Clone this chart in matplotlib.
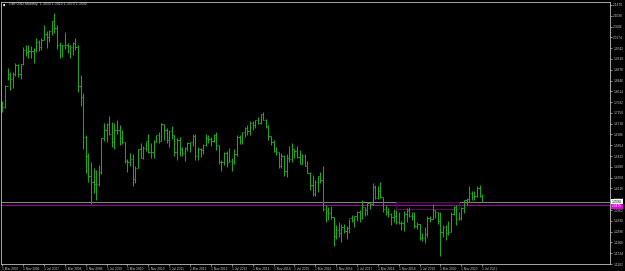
import numpy as np
import matplotlib
matplotlib.use("Agg")
import matplotlib.pyplot as plt

plt.rcParams["font.family"] = ["Liberation Sans", "DejaVu Sans"]

# GBPUSD monthly bars, Mar 2006 .. Jul 2021 (open, high, low, close)
opens = [
    1.7470, 1.7380, 1.8240, 1.8700, 1.8490, 1.8690, 1.9060, 1.8720, 1.9100, 1.9660,
    1.9580, 1.9610, 1.9620, 1.9680, 2.0000, 1.9790, 2.0070, 2.0320, 2.0170, 2.0420, 2.0810, 2.0560,
    1.9850, 1.9870, 1.9850, 1.9860, 1.9820, 1.9800, 1.9950, 1.9790, 1.8240, 1.7800, 1.6180, 1.5420,
    1.4620, 1.4380, 1.4320, 1.4320, 1.4780, 1.6130, 1.6460, 1.6700, 1.6300, 1.5980, 1.6450, 1.6450,
    1.6150, 1.5990, 1.5240, 1.5180, 1.5290, 1.4500, 1.4950, 1.5690, 1.5360, 1.5730, 1.6030, 1.5580,
    1.5600, 1.6000, 1.6260, 1.6040, 1.6700, 1.6450, 1.6050, 1.6430, 1.6250, 1.5580, 1.6080, 1.5690,
    1.5530, 1.5740, 1.5940, 1.5990, 1.6240, 1.5430, 1.5690, 1.5680, 1.5860, 1.6150, 1.6120, 1.6020,
    1.6250, 1.5860, 1.5180, 1.5190, 1.5540, 1.5190, 1.5210, 1.5210, 1.5490, 1.6190, 1.6030, 1.6370,
    1.6560, 1.6430, 1.6750, 1.6670, 1.6870, 1.6750, 1.7100, 1.6880, 1.6590, 1.6210, 1.6000, 1.5640,
    1.5580, 1.5020, 1.5440, 1.4820, 1.5350, 1.5290, 1.5710, 1.5610, 1.5370, 1.5120, 1.5440, 1.5040,
    1.4740, 1.4250, 1.3920, 1.4370, 1.4610, 1.4480, 1.3310, 1.3220, 1.3130, 1.2970, 1.2230, 1.2470,
    1.2340, 1.2570, 1.2410, 1.2550, 1.2940, 1.2880, 1.3020, 1.3200, 1.2930, 1.3390, 1.3280, 1.3530,
    1.3500, 1.4190, 1.3760, 1.4020, 1.3770, 1.3290, 1.3200, 1.3120, 1.2990, 1.3030, 1.2770, 1.2750,
    1.2750, 1.3100, 1.3260, 1.3030, 1.3040, 1.2630, 1.2700, 1.2160, 1.2160, 1.2290, 1.2940, 1.2920,
    1.3250, 1.3200, 1.2820, 1.2400, 1.2590, 1.2350, 1.2400, 1.3090, 1.3370, 1.2920, 1.2950, 1.3330,
    1.3670, 1.3710, 1.3930, 1.3780, 1.3820, 1.4150, 1.3830,
]
highs = [
    1.7630, 1.8250, 1.8930, 1.8770, 1.8790, 1.9150, 1.9120, 1.9110, 1.9790, 1.9850,
    1.9850, 1.9810, 1.9730, 2.0130, 2.0050, 2.0130, 2.0660, 2.0420, 2.0460, 2.0840, 2.1160, 2.0660,
    1.9990, 1.9880, 2.0400, 1.9950, 1.9850, 1.9990, 2.0160, 1.9850, 1.8670, 1.7950, 1.6270, 1.5530,
    1.5200, 1.4940, 1.4860, 1.5080, 1.6160, 1.6740, 1.6740, 1.7040, 1.6780, 1.6740, 1.6880, 1.6660,
    1.6460, 1.5990, 1.5290, 1.5530, 1.5490, 1.5030, 1.5700, 1.5960, 1.5840, 1.6000, 1.6300, 1.5950,
    1.6060, 1.6270, 1.6400, 1.6750, 1.6720, 1.6550, 1.6480, 1.6620, 1.6280, 1.6130, 1.6170, 1.5780,
    1.5790, 1.5990, 1.6000, 1.6300, 1.6310, 1.5780, 1.5750, 1.5920, 1.6310, 1.6250, 1.6180, 1.6310,
    1.6380, 1.5870, 1.5270, 1.5600, 1.5610, 1.5750, 1.5350, 1.5720, 1.6260, 1.6260, 1.6380, 1.6600,
    1.6670, 1.6820, 1.6820, 1.6850, 1.7000, 1.7100, 1.7190, 1.6900, 1.6650, 1.6230, 1.6080, 1.5790,
    1.5590, 1.5550, 1.5450, 1.5500, 1.5820, 1.5930, 1.5710, 1.5820, 1.5660, 1.5510, 1.5510, 1.5240,
    1.4770, 1.4670, 1.4460, 1.4630, 1.4770, 1.5020, 1.3480, 1.3370, 1.3440, 1.2990, 1.2670, 1.2770,
    1.2710, 1.2710, 1.2610, 1.2910, 1.3050, 1.3020, 1.3210, 1.3270, 1.3660, 1.3390, 1.3550, 1.3550,
    1.4340, 1.4270, 1.4240, 1.4380, 1.3770, 1.3470, 1.3360, 1.3140, 1.3300, 1.3260, 1.3180, 1.2840,
    1.3220, 1.3350, 1.3380, 1.3200, 1.3180, 1.2780, 1.2720, 1.2330, 1.2580, 1.3010, 1.3010, 1.3520,
    1.3280, 1.3200, 1.3200, 1.2650, 1.2650, 1.2810, 1.3170, 1.3430, 1.3480, 1.3180, 1.3400, 1.3680,
    1.3760, 1.4240, 1.4010, 1.4010, 1.4220, 1.4250, 1.3910,
]
lows = [
    1.7202, 1.7350, 1.8470, 1.8050, 1.8150, 1.8610, 1.8580, 1.8520, 1.9060, 1.9410,
    1.9330, 1.9330, 1.9160, 1.9580, 1.9630, 1.9650, 2.0060, 1.9730, 1.9980, 2.0250, 2.0350, 1.9690,
    1.9340, 1.9400, 1.9710, 1.9550, 1.9360, 1.9450, 1.9670, 1.8000, 1.7440, 1.5700, 1.4760, 1.4390,
    1.3500, 1.3960, 1.3660, 1.4240, 1.4700, 1.6020, 1.6000, 1.6260, 1.5780, 1.5710, 1.6300, 1.5880,
    1.5900, 1.5150, 1.4780, 1.5020, 1.4230, 1.4340, 1.4960, 1.5340, 1.5300, 1.5640, 1.5540, 1.5350,
    1.5330, 1.5980, 1.5930, 1.6030, 1.6080, 1.5930, 1.5780, 1.6090, 1.5440, 1.5270, 1.5420, 1.5420,
    1.5230, 1.5640, 1.5600, 1.5810, 1.5270, 1.5270, 1.5370, 1.5500, 1.5840, 1.5930, 1.5830, 1.5980,
    1.5680, 1.5110, 1.4830, 1.5070, 1.4990, 1.5180, 1.4810, 1.5100, 1.5430, 1.5890, 1.5900, 1.6200,
    1.6250, 1.6250, 1.6450, 1.6550, 1.6690, 1.6690, 1.6860, 1.6530, 1.6050, 1.5880, 1.5590, 1.5480,
    1.4950, 1.4950, 1.4630, 1.4570, 1.5170, 1.5170, 1.5330, 1.5330, 1.5110, 1.5110, 1.5030, 1.4730,
    1.4080, 1.3840, 1.3830, 1.4000, 1.4330, 1.3230, 1.2800, 1.2860, 1.2920, 1.1840, 1.2090, 1.2200,
    1.1990, 1.2350, 1.2110, 1.2360, 1.2770, 1.2590, 1.2810, 1.2770, 1.2910, 1.3030, 1.3060, 1.3300,
    1.3470, 1.3710, 1.3710, 1.3740, 1.3200, 1.3050, 1.3000, 1.2660, 1.2790, 1.2700, 1.2720, 1.2480,
    1.2440, 1.2770, 1.2980, 1.2860, 1.2560, 1.2500, 1.2080, 1.2010, 1.1960, 1.2200, 1.2770, 1.2900,
    1.2960, 1.2720, 1.1410, 1.2170, 1.2080, 1.2250, 1.2400, 1.3050, 1.2680, 1.2850, 1.2850, 1.3140,
    1.3450, 1.3570, 1.3670, 1.3670, 1.3800, 1.3790, 1.3570,
]
closes = opens[1:] + [1.3590]

x_labels = [
    "1 Mar 2006", "1 Nov 2006", "1 Jul 2007", "1 Mar 2008", "1 Nov 2008", "1 Jul 2009",
    "1 Mar 2010", "1 Nov 2010", "1 Jul 2011", "1 Mar 2012", "1 Nov 2012", "1 Jul 2013",
    "1 Mar 2014", "1 Nov 2014", "1 Jul 2015", "1 Mar 2016", "1 Nov 2016", "1 Jul 2017",
    "1 Mar 2018", "1 Nov 2018", "1 Jul 2019", "1 Mar 2020", "1 Nov 2020", "1 Jul 2021",
]
y_ticks = [round(2.1470 - 0.0432 * i, 4) for i in range(25)]

bid_price = closes[-1]
level_price = 1.3475
zone_top, zone_bottom = 1.3587, 1.3319
zone_start, zone_end = 151, 175  # month indices

fig = plt.figure(figsize=(6.25, 2.71), dpi=100, facecolor="black")
ax = fig.add_axes([1 / 625, 7 / 271, 609 / 625, 262 / 271], facecolor="black")

idx = np.arange(len(opens))
bar_col = "#18a818"
ax.vlines(idx, lows, highs, color=bar_col, linewidth=0.75)
ax.hlines(opens, idx - 0.45, idx, color=bar_col, linewidth=0.75)
ax.hlines(closes, idx, idx + 0.45, color=bar_col, linewidth=0.75)

ax.axhline(bid_price, color="#8a8a8a", linewidth=0.7, zorder=1)
ax.axhline(level_price, color="#a000a0", linewidth=0.7, zorder=1)
ax.add_patch(plt.Rectangle((zone_start, zone_bottom), zone_end - zone_start,
                           zone_top - zone_bottom, fill=False,
                           edgecolor="#5c0a5c", linewidth=0.7, zorder=1))

ax.set_xlim(-0.5, 233)
ax.set_ylim(1.1117, 2.1589)

ax.yaxis.tick_right()
ax.set_yticks(y_ticks)
ax.set_yticklabels([f"{v:.4f}" for v in y_ticks])
ax.set_xticks(np.arange(len(x_labels)) * 8)
ax.set_xticklabels(x_labels, ha="left")
ax.tick_params(axis="both", colors="#c8c8c8", labelsize=2.3, length=1.5,
               width=0.5, pad=0.8)
for s in ax.spines.values():
    s.set_color("#c0c0c0")
    s.set_linewidth(0.6)

# price tags on the right scale
ax.text(1.003, bid_price, f"{bid_price:.4f}", transform=ax.get_yaxis_transform(),
        fontsize=2.3, color="black", va="center", ha="left", zorder=5,
        bbox=dict(boxstyle="square,pad=0.3", facecolor="white", edgecolor="none"))
ax.text(1.003, level_price - 0.007, f"{level_price:.4f}", transform=ax.get_yaxis_transform(),
        fontsize=2.3, color="white", va="center", ha="left", zorder=5,
        bbox=dict(boxstyle="square,pad=0.3", facecolor="#e000e0", edgecolor="none"))

fig.text(3 / 625, 1 - 4 / 271, "■", fontsize=2.6, color="white", va="center")
fig.text(9 / 625, 1 - 4 / 271,
         f"GBPUSD,Monthly  {opens[-1]:.4f} {highs[-1]:.4f} {lows[-1]:.4f} {closes[-1]:.4f}",
         fontsize=2.6, color="#d0d0d0", va="center")

fig.savefig("out.png", dpi=100, facecolor="black")
